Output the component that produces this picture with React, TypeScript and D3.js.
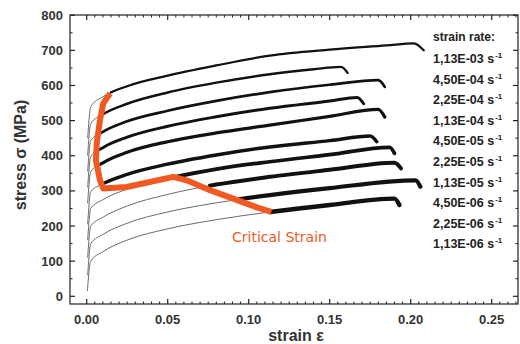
import React from 'react';
import * as d3 from 'd3';

const strainRates = [
  '1,13E-03', '4,50E-04', '2,25E-04', '1,13E-04', '4,50E-05',
  '2,25E-05', '1,13E-05', '4,50E-06', '2,25E-06', '1,13E-06',
];

// [strain, stress MPa]
const curve1 = [[0.0006, 450], [0.0025, 540], [0.01, 568], [0.025, 598], [0.05, 628], [0.08, 657], [0.113, 685], [0.15, 702], [0.185, 714], [0.202, 720], [0.208, 700]];
const curve2 = [[0.0006, 400], [0.0025, 492], [0.01, 518], [0.025, 548], [0.05, 580], [0.08, 608], [0.113, 632], [0.14, 646], [0.157, 653], [0.161, 636]];
const curve3 = [[0.0006, 355], [0.0025, 443], [0.01, 468], [0.025, 498], [0.05, 528], [0.08, 556], [0.113, 581], [0.15, 602], [0.18, 615], [0.184, 596]];
const curve4 = [[0.0006, 310], [0.0025, 398], [0.01, 423], [0.025, 453], [0.05, 484], [0.08, 511], [0.113, 535], [0.15, 556], [0.167, 566], [0.171, 548]];
const curve5 = [[0.0006, 265], [0.0025, 355], [0.01, 380], [0.025, 410], [0.05, 440], [0.08, 465], [0.113, 487], [0.15, 512], [0.18, 532], [0.184, 510]];
const curve6 = [[0.0006, 205], [0.0025, 298], [0.01, 320], [0.025, 347], [0.05, 376], [0.08, 402], [0.113, 425], [0.15, 443], [0.175, 456], [0.179, 440]];
const curve7 = [[0.0006, 160], [0.0025, 250], [0.01, 275], [0.025, 305], [0.05, 335], [0.08, 362], [0.113, 383], [0.15, 403], [0.187, 424], [0.19, 407]];
const curve8 = [[0.0006, 110], [0.0025, 200], [0.01, 225], [0.025, 257], [0.05, 290], [0.08, 318], [0.113, 340], [0.15, 360], [0.19, 380], [0.194, 364]];
const curve9 = [[0.0006, 60], [0.0025, 150], [0.01, 176], [0.025, 208], [0.05, 240], [0.08, 266], [0.113, 288], [0.15, 308], [0.203, 330], [0.206, 312]];
const curve10 = [[0.0004, 15], [0.0025, 100], [0.01, 127], [0.025, 160], [0.05, 192], [0.08, 218], [0.113, 240], [0.15, 260], [0.19, 278], [0.193, 260]];

const curves = [curve1, curve2, curve3, curve4, curve5, curve6, curve7, curve8, curve9, curve10];
const criticalStrainOfCurve = [0.0144, 0.009, 0.007, 0.006, 0.0065, 0.009, 0.055, 0.075, 0.092, 0.113];

const criticalLine = [
  [0.0144, 577], [0.0102, 549], [0.0082, 501], [0.0062, 435], [0.0057, 387],
  [0.0082, 330], [0.0102, 307], [0.0247, 311], [0.0535, 340], [0.0617, 330],
  [0.0761, 302], [0.107, 250], [0.114, 240],
];

const xTicks = [0, 0.05, 0.1, 0.15, 0.2, 0.25];
const yTicks = [0, 100, 200, 300, 400, 500, 600, 700, 800];

const W = 520;
const H = 344;
const frame = { left: 70, right: 518, top: 15, bottom: 304 };

export default function App() {
  const x = d3.scaleLinear().domain([0, 0.25]).range([86.7, 491.7]);
  const y = d3.scaleLinear().domain([0, 800]).range([296.3, 15.2]);

  const line = d3.line<number[]>()
    .x((d) => x(d[0]))
    .y((d) => y(d[1]))
    .curve(d3.curveMonotoneX);

  const orange = d3.line<number[]>()
    .x((d) => x(d[0]))
    .y((d) => y(d[1]))
    .curve(d3.curveLinear);

  const xMinor = d3.range(0, 0.2651, 0.005).map((v) => +v.toFixed(3)).filter((v) => !xTicks.some((t) => Math.abs(t - v) < 1e-6));
  const yMinor = d3.range(50, 800, 100);

  const font = 'Liberation Sans, Arial, sans-serif';

  return (
    <svg width={W} height={H} style={{ position: 'absolute', left: 0, top: 0, background: '#fff' }}>
      <defs>
        {curves.map((c, i) => (
          <clipPath id={`thick${i}`} key={i}>
            <rect x={x(criticalStrainOfCurve[i])} y={0} width={W} height={H} />
          </clipPath>
        ))}
      </defs>
      <rect x={0} y={0} width={W} height={H} fill="#fff" />

      {/* thin curves */}
      {curves.map((c, i) => (
        <path key={`thin${i}`} d={line(c) || ''} fill="none" stroke="#6a6a6a" strokeWidth={1} />
      ))}
      {/* thick serrated parts */}
      {curves.map((c, i) => (
        <path key={`thick${i}`} d={line(c) || ''} fill="none" stroke="#111" strokeWidth={2.2 + i * 0.25}
          strokeLinecap="round" clipPath={`url(#thick${i})`} />
      ))}

      {/* critical strain line */}
      <path d={orange(criticalLine) || ''} fill="none" stroke="#f05a22" strokeWidth={6}
        strokeLinejoin="round" strokeLinecap="butt" />
      <text x={232} y={242} fill="#f05a22" fontFamily="DejaVu Sans, sans-serif" fontSize={14}>Critical Strain</text>

      {/* frame */}
      <rect x={frame.left} y={frame.top} width={frame.right - frame.left} height={frame.bottom - frame.top}
        fill="none" stroke="#222" strokeWidth={1.2} />

      {/* x ticks */}
      {xTicks.map((t) => (
        <g key={`xt${t}`}>
          <line x1={x(t)} x2={x(t)} y1={frame.bottom} y2={frame.bottom - 5} stroke="#222" strokeWidth={1.2} />
          <line x1={x(t)} x2={x(t)} y1={frame.top} y2={frame.top + 5} stroke="#222" strokeWidth={1.2} />
          <text x={x(t)} y={324} textAnchor="middle" fontFamily={font} fontSize={13} fontWeight="bold" fill="#333">{t.toFixed(2)}</text>
        </g>
      ))}
      {xMinor.map((t) => (
        <g key={`xm${t}`}>
          <line x1={x(t)} x2={x(t)} y1={frame.bottom} y2={frame.bottom - 2.5} stroke="#222" strokeWidth={1} />
          <line x1={x(t)} x2={x(t)} y1={frame.top} y2={frame.top + 2.5} stroke="#222" strokeWidth={1} />
        </g>
      ))}

      {/* y ticks */}
      {yTicks.map((t) => (
        <g key={`yt${t}`}>
          <line x1={frame.left} x2={frame.left + 5} y1={y(t)} y2={y(t)} stroke="#222" strokeWidth={1.2} />
          <line x1={frame.right} x2={frame.right - 5} y1={y(t)} y2={y(t)} stroke="#222" strokeWidth={1.2} />
          <text x={63} y={y(t) + 4.5} textAnchor="end" fontFamily={font} fontSize={13} fontWeight="bold" fill="#333">{t}</text>
        </g>
      ))}
      {yMinor.map((t) => (
        <g key={`ym${t}`}>
          <line x1={frame.left} x2={frame.left + 2.5} y1={y(t)} y2={y(t)} stroke="#222" strokeWidth={1} />
          <line x1={frame.right} x2={frame.right - 2.5} y1={y(t)} y2={y(t)} stroke="#222" strokeWidth={1} />
        </g>
      ))}

      {/* axis titles */}
      <text transform="translate(26,155) rotate(-90)" textAnchor="middle" fontFamily={font} fontSize={16} fontWeight="bold" fill="#333">stress σ (MPa)</text>
      <text x={296} y={341} textAnchor="middle" fontFamily={font} fontSize={16} fontWeight="bold" fill="#333">strain ε</text>

      {/* legend */}
      <text x={433} y={41} fontFamily={font} fontSize={12} fontWeight="bold" fill="#222">strain rate:</text>
      {strainRates.map((r, i) => (
        <text key={r} x={433} y={63 + i * 20.6} fontFamily={font} fontSize={12.5} fill="#222" fontWeight="bold">
          {r} s<tspan dx={1} dy={-5} fontSize={8}>-1</tspan>
        </text>
      ))}
    </svg>
  );
}
